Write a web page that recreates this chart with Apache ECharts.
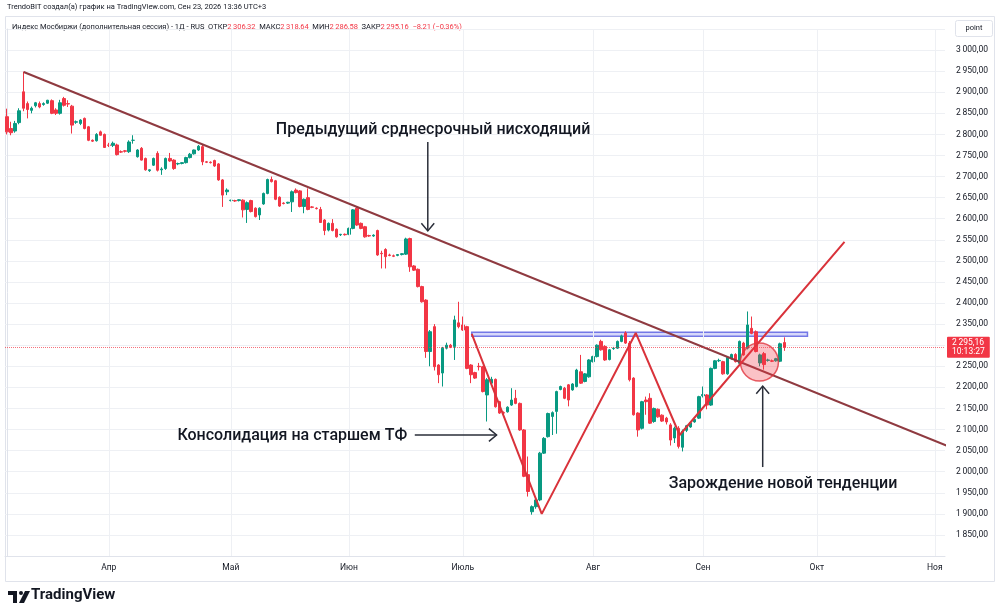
<!DOCTYPE html>
<html><head><meta charset="utf-8">
<script src="https://cdn.jsdelivr.net/npm/echarts@6/dist/echarts.min.js"></script>
<style>html,body{margin:0;padding:0;background:#fff}#c{width:1000px;height:616px}</style>
</head><body><div id="c"></div><script>
// ---------- data ----------
const sessionCount = 231; // visible sessions incl. empty future space
const categories = Array.from({length: sessionCount}, (_, i) => 'Д' + (i + 1));
const monthLabels = ['Апр','Май','Июн','Июль','Авг','Сен','Окт','Ноя'];
const monthTickIndex = [25, 55, 84, 112, 144, 171, 199, 228];

const opens = [2842,2814,2808,2828,2901,2873,2857,2868,2873,2871,2874,2880,
 2858,2850,2885,2873,2867,2829,2826,2838,2818,2786,2785,2806,
 2800,2775,2774,2775,2759,2761,2759,2786,2747,2767,2743,2714,
 2727,2755,2716,2719,2743,2739,2730,2731,2733,2745,2754,2763,
 2771,2735,2734,2738,2730,2692,2664,2643,2643,2643,2644,2622,
 2643,2625,2609,2635,2660,2693,2690,2651,2637,2637,2640,2668,
 2666,2629,2650,2628,2625,2622,2597,2573,2589,2575,2562,2563,
 2563,2577,2625,2589,2581,2560,2559,2572,2518,2527,2514,2512,
 2513,2515,2516,2553,2488,2480,2439,2407,2285,2344,2253,2234,
 2293,2300,2297,2353,2348,2344,2253,2235,2250,2249,2182,2210,
 2219,2166,2140,2142,2158,2174,2162,2099,1993,1905,1917,1933,
 2044,2083,2131,2143,2195,2198,2206,2194,2202,2237,2214,2225,
 2261,2273,2309,2297,2266,2292,2293,2309,2329,2305,2222,2139,
 2103,2170,2174,2119,2148,2134,2127,2111,2080,2103,2058,2098,
 2106,2118,2127,2180,2182,2158,2245,2263,2261,2232,2268,2278,
 2257,2305,2293,2340,2332,2258,2280,2264,2263,2263,2262,2306.32];
const highs = [2861,2830,2832,2862,2949,2878,2866,2877,2878,2876,2882,2883,
 2862,2882,2889,2881,2870,2833,2836,2840,2820,2788,2803,2809,
 2802,2780,2783,2778,2762,2763,2786,2798,2765,2770,2745,2717,
 2745,2760,2722,2745,2756,2741,2733,2734,2747,2756,2764,2775,
 2775,2737,2736,2740,2732,2694,2672,2645,2645,2646,2646,2641,
 2645,2627,2627,2662,2695,2700,2692,2653,2639,2640,2667,2672,
 2668,2648,2672,2630,2627,2628,2599,2591,2599,2577,2564,2565,
 2579,2623,2629,2591,2583,2562,2563,2574,2524,2530,2517,2515,
 2516,2518,2555,2555,2490,2482,2441,2409,2336,2350,2255,2296,
 2306,2303,2370,2403,2368,2346,2255,2237,2258,2251,2222,2225,
 2221,2168,2143,2155,2198,2194,2164,2101,2036,1920,1936,2047,
 2082,2140,2143,2192,2204,2201,2208,2210,2244,2277,2234,2267,
 2275,2302,2313,2300,2291,2296,2311,2325,2333,2310,2224,2141,
 2168,2178,2186,2152,2150,2136,2130,2115,2107,2108,2100,2111,
 2118,2126,2180,2202,2184,2247,2265,2268,2263,2273,2280,2281,
 2311,2308,2380,2368,2335,2280,2284,2268,2266,2270,2306,2318.64];
const lows = [2800,2798,2804,2824,2855,2838,2850,2864,2862,2868,2872,2848,
 2846,2847,2866,2865,2802,2825,2822,2812,2784,2782,2783,2797,
 2768,2770,2770,2750,2756,2757,2756,2778,2745,2738,2714,2711,
 2725,2712,2704,2716,2735,2716,2727,2729,2731,2743,2752,2761,
 2727,2732,2731,2723,2690,2628,2656,2641,2640,2641,2603,2590,
 2615,2603,2597,2633,2658,2686,2644,2628,2634,2635,2616,2660,
 2627,2613,2620,2625,2622,2590,2561,2570,2570,2555,2559,2560,
 2561,2575,2583,2575,2555,2557,2557,2512,2482,2482,2511,2509,
 2511,2513,2514,2474,2476,2437,2401,2270,2250,2240,2210,2202,
 2290,2293,2265,2340,2334,2243,2210,2220,2240,2188,2119,2207,
 2152,2137,2136,2140,2156,2160,2097,1987,1941,1898,1912,1930,
 2042,2081,2087,2090,2193,2172,2155,2192,2200,2208,2212,2223,
 2259,2271,2287,2263,2264,2289,2291,2307,2303,2214,2133,2083,
 2100,2135,2113,2116,2128,2118,2112,2062,2068,2055,2048,2094,
 2104,2116,2125,2176,2148,2156,2243,2260,2230,2230,2266,2259,
 2255,2275,2290,2326,2283,2250,2242,2261,2260,2261,2260,2286.58];
const closes = [2806,2804,2826,2856,2862,2859,2862,2875,2865,2873,2881,2850,
 2850,2875,2869,2872,2822,2830,2834,2814,2786,2784,2800,2798,
 2769,2774,2779,2752,2758,2760,2782,2786,2763,2739,2716,2716,
 2743,2715,2718,2743,2737,2719,2731,2733,2745,2753,2763,2772,
 2735,2734,2733,2725,2692,2656,2668,2644,2642,2645,2621,2638,
 2617,2605,2625,2660,2693,2688,2646,2630,2636,2639,2664,2662,
 2629,2646,2622,2627,2624,2591,2572,2589,2572,2557,2563,2562,
 2577,2621,2585,2577,2557,2559,2561,2514,2517,2510,2513,2511,
 2515,2517,2552,2486,2478,2439,2403,2285,2332,2249,2230,2293,
 2300,2296,2360,2344,2336,2245,2230,2222,2249,2190,2218,2219,
 2154,2139,2139,2153,2170,2162,2099,1989,1953,1917,1933,2044,
 2079,2138,2140,2190,2202,2174,2170,2208,2241,2210,2232,2265,
 2273,2300,2289,2265,2289,2293,2309,2322,2305,2218,2135,2099,
 2166,2166,2115,2150,2130,2120,2118,2075,2103,2060,2096,2109,
 2116,2124,2178,2183,2158,2245,2263,2264,2232,2271,2278,2261,
 2309,2277,2348,2328,2285,2277,2254,2265,2262,2268,2303.37,2295.16];

// drawings (x = session index, y = price)
const downTrend = [[4.1, 2948], [231.6, 2059]];
const zigzag = [[114.2, 2327], [131.4, 1900], [154.5, 2329], [165.3, 2087], [205.8, 2545]];
const resistanceZone = [[114.2, 2331], [196.7, 2321]];
const breakoutCircle = [[184.9, 2260]];
const arrows = [[103.4, 2782, 103.4, 2571], [100.2, 2087, 120.3, 2087], [185.7, 2011, 185.7, 2203]];
const noteTexts = ['Предыдущий срднесрочный нисходящий', 'Консолидация на старшем ТФ', 'Зарождение новой тенденции'];
const notePoints = [[104.7, 2810], [70.1, 2085], [190.7, 1971]];
const lastTime = '10:13:27';

// ---------- chart ----------
const UI = 'Roboto, "Noto Sans", sans-serif';
const fmtPrice = v => {
  const s = Math.abs(v).toFixed(2).split('.');
  return (v < 0 ? '\u2212' : '') + s[0].replace(/\B(?=(\d{3})+(?!\d))/g, '\u2009') + ',' + s[1];
};
const candleData = opens.map((o, i) => [o, closes[i], lows[i], highs[i]]);
const n = closes.length;
const lastClose = closes[n - 1];
const chg = lastClose - closes[n - 2];
const chgPct = chg / closes[n - 2] * 100;

const chart = echarts.init(document.getElementById('c'), null, {renderer: 'canvas'});
chart.setOption({
  animation: false,
  backgroundColor: '#ffffff',
  grid: {left: 5, right: 55, top: 29, bottom: 60},
  xAxis: [{
    type: 'category', data: categories, boundaryGap: true,
    axisLine: {show: true, lineStyle: {color: '#e0e3eb'}},
    axisTick: {show: false},
    splitLine: {show: false},
    axisLabel: {
      interval: idx => monthTickIndex.indexOf(idx) >= 0,
      formatter: (v, idx) => { const k = monthTickIndex.indexOf(idx); return k >= 0 ? monthLabels[k] : ''; },
      color: '#131722', fontSize: 8.5, fontFamily: UI, margin: 7
    }
  }, {
    type: 'value', min: -0.5, max: sessionCount - 0.5, show: false
  }],
  yAxis: {
    type: 'value', position: 'right', min: 1800, max: 3050, interval: 50, scale: true,
    axisLine: {show: true, lineStyle: {color: '#e0e3eb'}},
    axisTick: {show: false},
    splitLine: {show: true, lineStyle: {color: '#eef0f4'}},
    axisLabel: {showMinLabel: false, showMaxLabel: false, formatter: v => fmtPrice(v),
      color: '#131722', fontSize: 8.5, fontFamily: UI, margin: 11}
  },
  series: [
    {
      type: 'line', xAxisIndex: 1, data: [], silent: true,
      markLine: {symbol: 'none', silent: true, label: {show: false},
        lineStyle: {color: '#eef0f4', type: 'solid', width: 1},
        data: monthTickIndex.map(i => ({xAxis: i}))}
    },
    {
      type: 'candlestick', xAxisIndex: 0, data: candleData, barWidth: 3, z: 3,
      itemStyle: {color: '#089981', color0: '#f23645', borderColor: '#089981', borderColor0: '#f23645', borderWidth: 1},
      markLine: {
        symbol: 'none', silent: true, z: 20,
        lineStyle: {color: 'rgba(242,54,69,0.7)', type: 'dotted', width: 1},
        label: {show: true, position: 'end', distance: 2, formatter: () => fmtPrice(lastClose) + '\n' + lastTime,
          backgroundColor: '#f23645', color: '#ffffff', fontSize: 8.5, fontFamily: UI, lineHeight: 9.5,
          padding: [1, 5, 1, 5], borderRadius: 1, opacity: 1},
        data: [{yAxis: lastClose}]
      }
    },
    {
      type: 'line', xAxisIndex: 1, data: downTrend, symbol: 'none', clip: false, z: 5, silent: true,
      lineStyle: {color: '#8f3a40', width: 2}
    },
    {
      type: 'line', xAxisIndex: 1, data: zigzag, symbol: 'none', clip: false, z: 6, silent: true,
      lineStyle: {color: '#d9323a', width: 2},
      markArea: {silent: true,
        itemStyle: {color: 'rgba(140,142,240,0.35)', borderColor: '#7478e6', borderWidth: 1.5},
        data: [[{coord: resistanceZone[0]}, {coord: resistanceZone[1]}]]}
    },
    {
      type: 'scatter', xAxisIndex: 1, data: breakoutCircle, symbol: 'circle', symbolSize: 38, z: 7, silent: true,
      itemStyle: {color: 'rgba(242,54,69,0.38)', borderColor: '#e0353d', borderWidth: 1.5}
    },
    {
      type: 'custom', xAxisIndex: 1, data: arrows, z: 8, silent: true, clip: false,
      renderItem: (params, api) => {
        const p1 = api.coord([api.value(0), api.value(1)]);
        const p2 = api.coord([api.value(2), api.value(3)]);
        const dx = p2[0] - p1[0], dy = p2[1] - p1[1], len = Math.hypot(dx, dy);
        const ux = dx / len, uy = dy / len, h = 10, a = Math.PI / 4.5;
        const rot = t => [ux * Math.cos(t) - uy * Math.sin(t), ux * Math.sin(t) + uy * Math.cos(t)];
        const r1 = rot(a), r2 = rot(-a);
        return {type: 'group', children: [
          {type: 'line', shape: {x1: p1[0], y1: p1[1], x2: p2[0], y2: p2[1]}, style: {stroke: '#2a2e39', lineWidth: 1.5}},
          {type: 'polyline', shape: {points: [[p2[0] - h * r1[0], p2[1] - h * r1[1]], [p2[0], p2[1]], [p2[0] - h * r2[0], p2[1] - h * r2[1]]]},
            style: {stroke: '#2a2e39', lineWidth: 1.5, fill: null}}
        ]};
      }
    },
    {
      type: 'custom', xAxisIndex: 1, data: notePoints, z: 9, silent: true, clip: false,
      renderItem: (params, api) => {
        const p = api.coord([api.value(0), api.value(1)]);
        return {type: 'text', x: p[0], y: p[1], style: {text: noteTexts[params.dataIndex],
          font: '500 16px ' + UI, fill: '#131722', align: 'center', verticalAlign: 'middle'}};
      }
    }
  ],
  graphic: [
    {type: 'rect', shape: {x: 5.5, y: 16.5, width: 989, height: 565}, style: {fill: null, stroke: '#e0e3eb', lineWidth: 1}, z: -1},
    {type: 'text', left: 7, top: 3, style: {text: 'TrendoBIT создал(а) график на TradingView.com, Сен 23, 2026 13:36 UTC+3',
      font: '7.5px ' + UI, fill: '#131722'}},
    {type: 'text', left: 12, top: 23, style: {
      text: '{n|Индекс Мосбиржи (дополнительная сессия) - 1Д - RUS}  {l|ОТКР}{v|' + fmtPrice(opens[n - 1]) + '}  {l|МАКС}{v|' +
        fmtPrice(highs[n - 1]) + '}  {l|МИН}{v|' + fmtPrice(lows[n - 1]) + '}  {l|ЗАКР}{v|' + fmtPrice(lastClose) + '}  {v|' +
        fmtPrice(chg) + ' (' + fmtPrice(chgPct) + '%)}',
      rich: {n: {fontSize: 7.5, fontFamily: UI, fill: '#131722'}, l: {fontSize: 7.5, fontFamily: UI, fill: '#131722'},
        v: {fontSize: 7.5, fontFamily: UI, fill: '#f23645'}},
      font: '7.5px ' + UI, fill: '#131722'}},
    {type: 'rect', shape: {x: 955.5, y: 20.5, width: 37, height: 16, r: 2}, style: {fill: '#fff', stroke: '#e0e3eb', lineWidth: 1}},
    {type: 'text', x: 974, y: 28.5, style: {text: 'point', font: '7.5px ' + UI, fill: '#131722', align: 'center', verticalAlign: 'middle'}},
    {type: 'group', left: 8, top: 591, children: [
      {type: 'rect', shape: {x: 0, y: 0, width: 9, height: 4}, style: {fill: '#131722'}},
      {type: 'rect', shape: {x: 5, y: 0, width: 4, height: 12}, style: {fill: '#131722'}},
      {type: 'circle', shape: {cx: 13, cy: 2, r: 2}, style: {fill: '#131722'}},
      {type: 'polygon', shape: {points: [[17, 0], [22, 0], [16, 12], [11, 12]]}, style: {fill: '#131722'}}
    ]},
    {type: 'text', left: 31, top: 588, style: {text: 'TradingView', font: 'bold 15px ' + UI, fill: '#131722'}}
  ]
});
</script></body></html>
